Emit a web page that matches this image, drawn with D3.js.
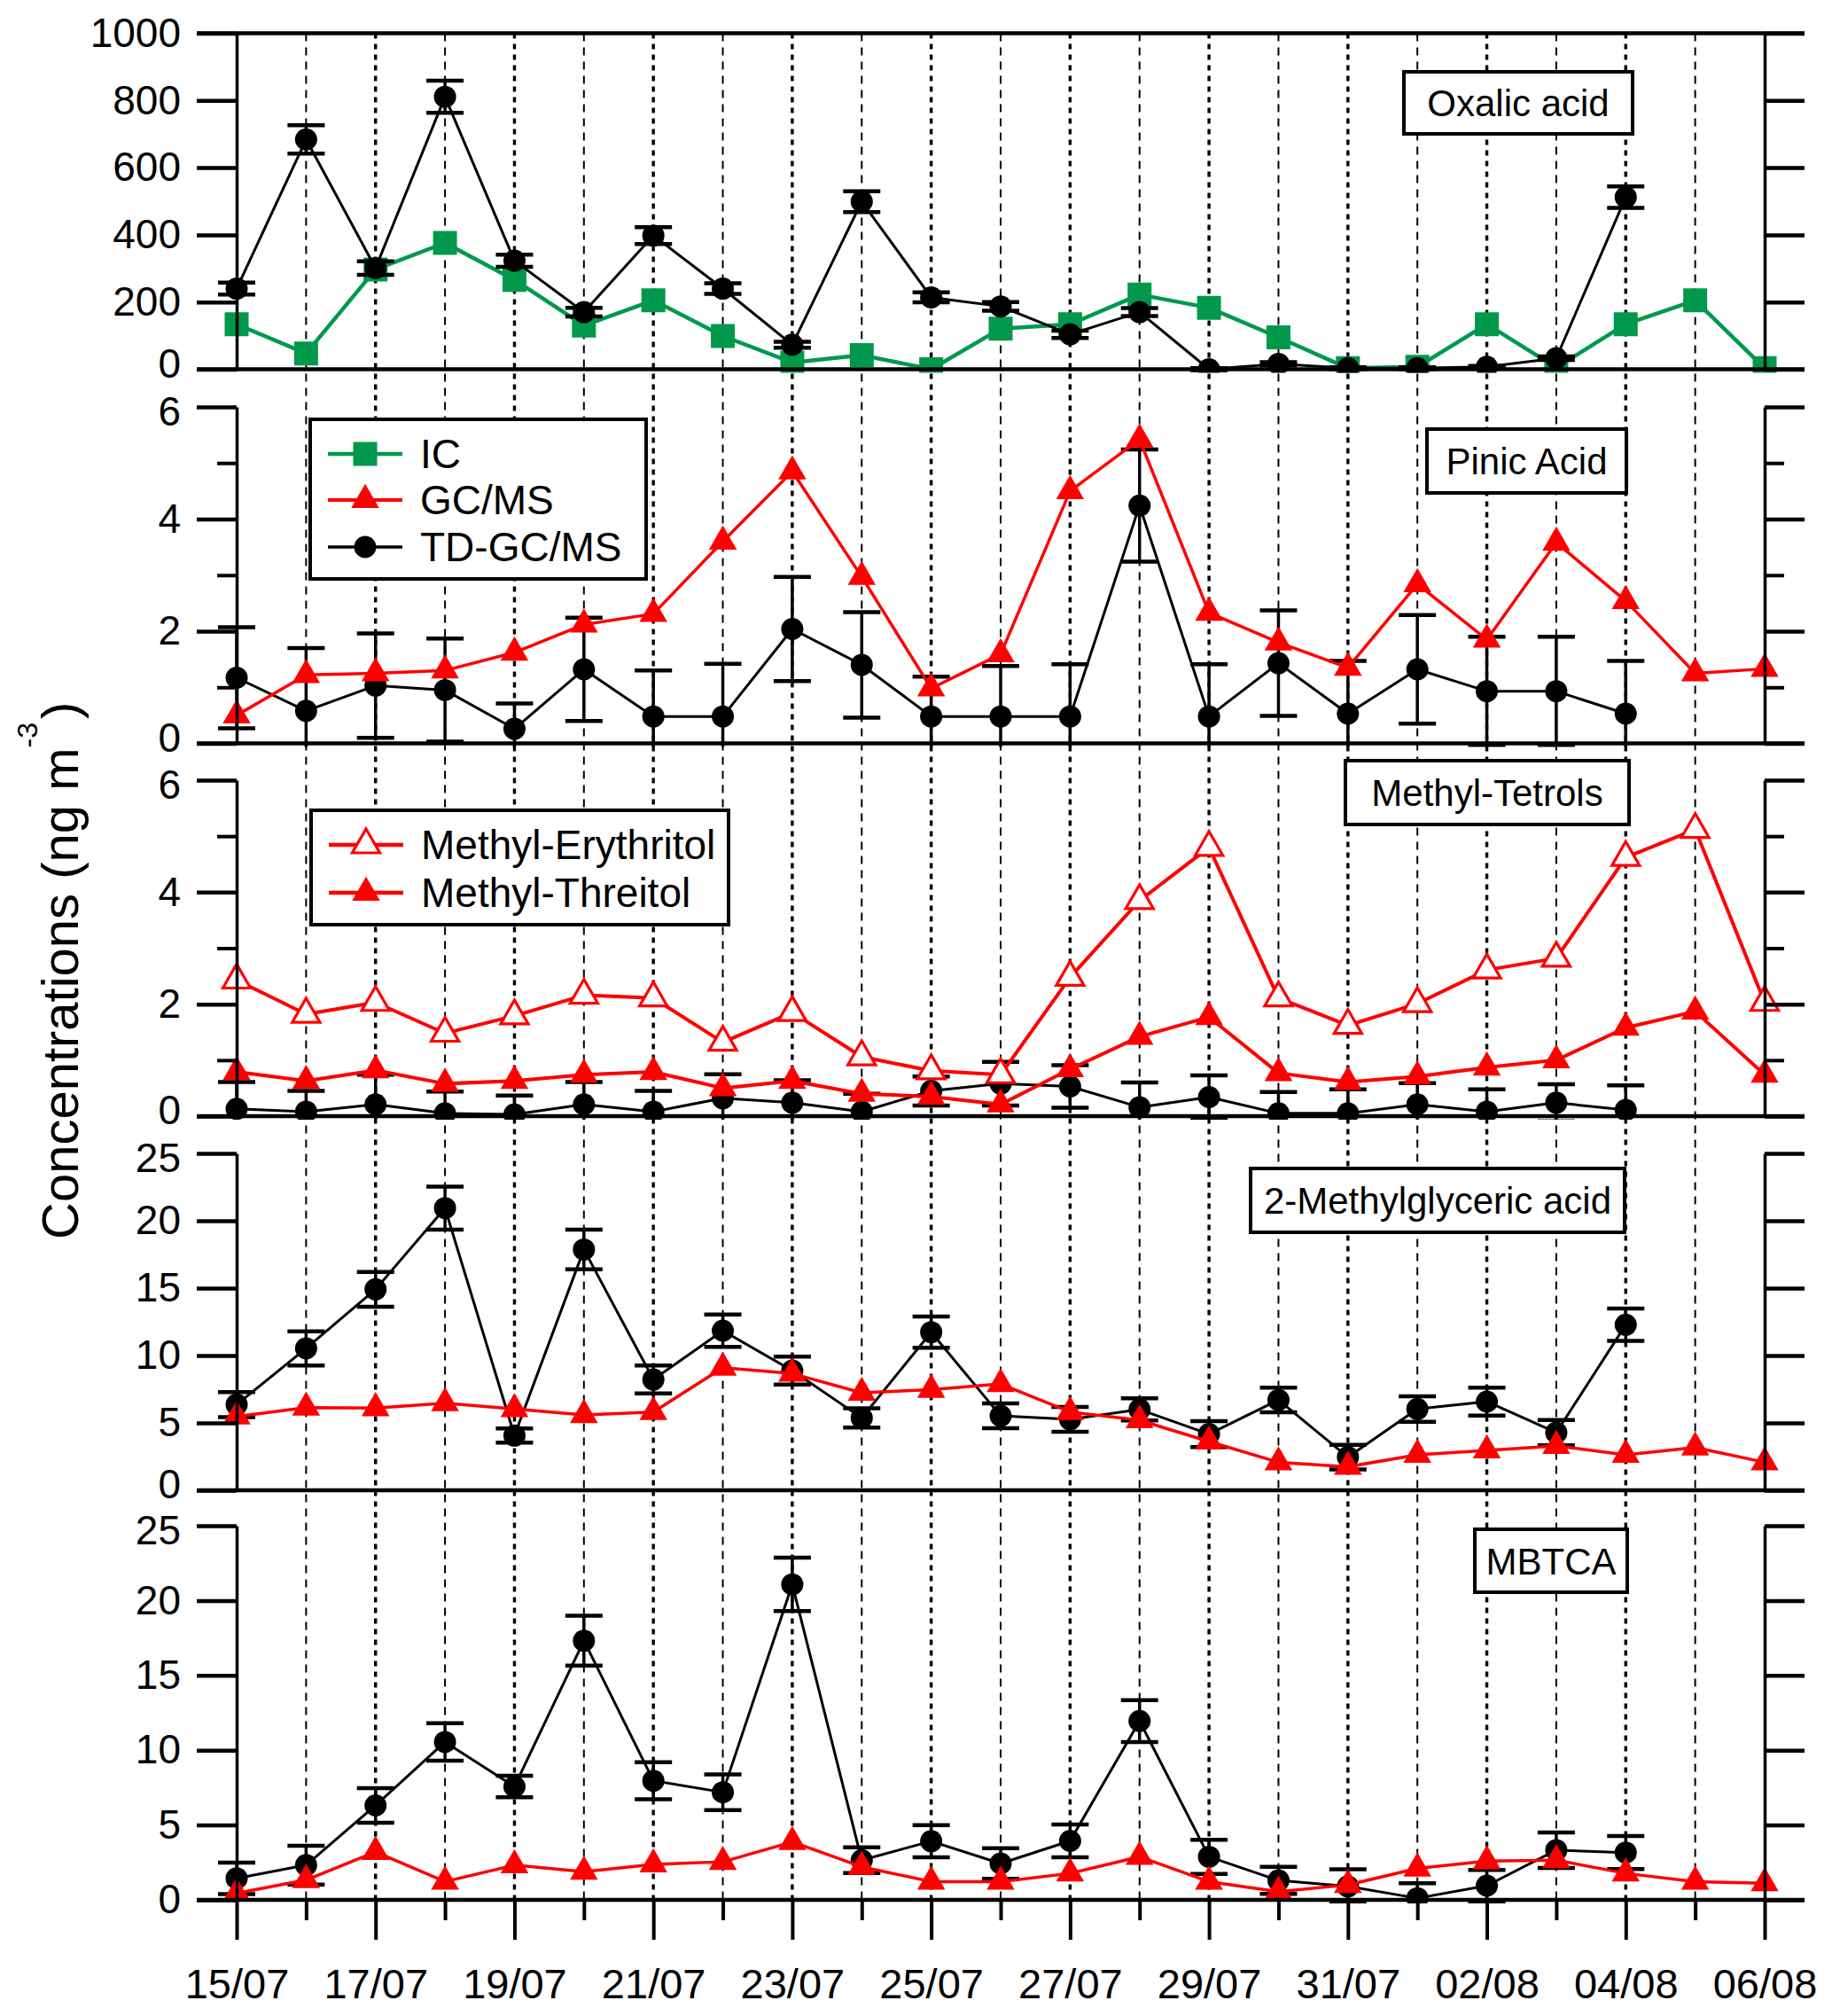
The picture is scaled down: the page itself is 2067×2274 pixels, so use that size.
<!DOCTYPE html>
<html>
<head>
<meta charset="utf-8">
<script src="https://cdn.jsdelivr.net/npm/d3@7"></script>
<style>
  body { margin: 0; background: #fff; }
  text { font-family: "Liberation Sans", Arial, sans-serif; fill: #000; }
</style>
</head>
<body>
<svg id="chart" width="2067" height="2274"></svg>
<script>
// sampling days
const dates = ["15/07","16/07","17/07","18/07","19/07","20/07","21/07","22/07","23/07","24/07","25/07","26/07",
  "27/07","28/07","29/07","30/07","31/07","01/08","02/08","03/08","04/08","05/08","06/08"];

// Oxalic acid (ng m-3)
const oxalicIC  = [134,47,297,376,266,130,205,99,20,42,0,121,134,222,183,95,3,7,134,5,134,205,3];
const oxalicTD  = [240,684,301,811,323,170,398,240,73,499,214,187,104,170,0,16,3,3,7,33,512,null,null];
const oxalicErr = [18,42,20,48,18,13,25,16,9,31,15,13,11,12,3,5,3,3,3,5,32,null,null];

// Pinic acid
const pinicGC  = [0.50,1.22,1.25,1.30,1.62,2.12,2.31,3.60,4.85,2.97,0.98,1.59,4.50,5.42,2.33,1.80,1.35,2.84,1.85,3.58,2.54,1.25,1.33];
const pinicTD  = [1.17,0.58,1.03,0.95,0.26,1.32,0.48,0.48,2.04,1.40,0.48,0.48,0.48,4.24,0.48,1.43,0.53,1.32,0.93,0.93,0.53,null,null];
const pinicErr = [0.90,1.12,0.93,0.92,0.45,0.92,0.82,0.94,0.93,0.94,0.71,0.90,0.93,1.00,0.93,0.94,0.94,0.97,0.97,0.97,0.94,null,null];

// Methyl-tetrols
const erythritol = [2.43,1.82,2.03,1.48,1.79,2.16,2.11,1.32,1.85,1.06,0.81,0.74,2.48,3.85,4.80,2.11,1.62,2.01,2.61,2.82,4.62,5.12,2.03];
const threitol   = [0.79,0.63,0.82,0.58,0.63,0.74,0.79,0.50,0.63,0.40,0.35,0.21,0.84,1.42,1.77,0.77,0.61,0.71,0.87,1.00,1.58,1.87,0.74];
const tetrolTD   = [0.13,0.08,0.21,0.05,0.03,0.21,0.08,0.32,0.24,0.08,0.45,0.58,0.53,0.16,0.34,0.05,0.05,0.21,0.08,0.24,0.11,null,null];
const tetrolErr  = [0.48,0.37,0.53,0.39,0.34,0.40,0.37,0.43,0.40,0.32,0.26,0.39,0.38,0.44,0.39,0.38,0.43,0.38,0.40,0.33,0.44,null,null];

// 2-Methylglyceric acid
const mgaGC  = [5.48,6.14,6.10,6.47,6.03,5.59,5.81,9.10,8.66,7.24,7.46,7.89,5.81,5.20,3.62,2.08,1.75,2.63,2.96,3.29,2.63,3.18,2.08];
const mgaTD  = [6.36,10.53,14.91,20.94,4.06,17.87,8.22,11.84,8.88,5.37,11.73,5.52,5.26,6.00,4.17,6.70,2.46,6.03,6.58,4.28,12.28,null,null];
const mgaErr = [0.93,1.27,1.29,1.6,0.53,1.47,1.04,1.2,1.03,0.72,1.16,0.92,0.92,0.82,0.96,0.91,0.91,0.95,1.03,0.94,1.2,null,null];

// MBTCA
const mbtcaGC  = [0.44,1.33,3.21,1.22,2.32,1.88,2.37,2.54,3.87,2.21,1.22,1.22,1.77,2.88,1.22,0.55,1.0,2.10,2.59,2.65,1.77,1.22,1.11];
const mbtcaTD  = [1.44,2.32,6.31,10.55,7.57,17.32,7.96,7.19,21.08,2.65,3.92,2.43,3.94,11.95,2.88,1.3,0.9,0.11,0.95,3.32,3.16,null,null];
const mbtcaErr = [1.05,1.3,1.16,1.25,0.72,1.67,1.23,1.19,1.78,0.86,1.07,1.02,1.1,1.4,1.14,0.9,1.15,1.0,1.05,1.18,1.1,null,null];

const green = "#00994c", red = "#ff0000";

const svg = d3.select("#chart");
const x = d3.scalePoint().domain(dates).range([267, 1991]);
const xLeft = 267, xRight = 1991;

const panels = [
  { label: "Oxalic acid", domain: [0, 1000], top: 37.5, zero: 416.5, ticks: d3.range(0, 1001, 200), minor: [],
    box: [1584, 81, 258, 70],
    series: [
      { values: oxalicIC, color: green, marker: "square", width: 4.5 },
      { values: oxalicTD, err: oxalicErr, color: "#000", marker: "circle", width: 3 }
    ] },
  { label: "Pinic Acid", domain: [0, 6], top: 459, zero: 838.5, ticks: [0, 2, 4, 6], minor: [1, 3, 5],
    box: [1610, 484, 225, 72],
    series: [
      { values: pinicTD, err: pinicErr, color: "#000", marker: "circle", width: 3 },
      { values: pinicGC, color: red, marker: "tri", width: 3.5 }
    ] },
  { label: "Methyl-Tetrols", domain: [0, 6], top: 880, zero: 1259, ticks: [0, 2, 4, 6], minor: [1, 3, 5],
    box: [1518, 858, 320, 72],
    series: [
      { values: tetrolTD, err: tetrolErr, color: "#000", marker: "circle", width: 3 },
      { values: threitol, color: red, marker: "tri", width: 4 },
      { values: erythritol, color: red, marker: "openTri", width: 4 }
    ] },
  { label: "2-Methylglyceric acid", domain: [0, 25], top: 1301, zero: 1681, ticks: d3.range(0, 26, 5), minor: [],
    box: [1411, 1318, 422, 72],
    series: [
      { values: mgaTD, err: mgaErr, color: "#000", marker: "circle", width: 3 },
      { values: mgaGC, color: red, marker: "tri", width: 3.5 }
    ] },
  { label: "MBTCA", domain: [0, 25], top: 1721, zero: 2143, ticks: d3.range(0, 26, 5), minor: [],
    box: [1664, 1725, 172, 71],
    series: [
      { values: mbtcaTD, err: mbtcaErr, color: "#000", marker: "circle", width: 3 },
      { values: mbtcaGC, color: red, marker: "tri", width: 3.5 }
    ] }
];

const markerPath = {
  square: d3.symbol().type(d3.symbolSquare).size(27 * 27)(),
  circle: d3.symbol().type(d3.symbolCircle).size(Math.PI * 12.5 * 12.5)(),
  tri: d3.symbol().type(d3.symbolTriangle).size(430)(),
  openTri: d3.symbol().type(d3.symbolTriangle).size(420)()
};

function drawMarker(sel, m, color) {
  sel.attr("d", markerPath[m])
    .attr("fill", m === "openTri" ? "#fff" : color)
    .attr("stroke", m === "openTri" ? color : "none")
    .attr("stroke-width", 3.2);
}

// vertical day grid across all panels
const grid = svg.append("g");
dates.forEach((d, i) => {
  if (i === 0 || i === dates.length - 1) return;
  const major = i % 2 === 0;
  grid.append("line")
    .attr("x1", x(d)).attr("x2", x(d))
    .attr("y1", panels[0].top).attr("y2", panels[4].zero)
    .attr("stroke", "#000")
    .attr("stroke-width", major ? 3.4 : 2)
    .attr("stroke-dasharray", major ? "6,6" : "9,7");
});

panels.forEach((p, pi) => {
  const y = d3.scaleLinear().domain(p.domain).range([p.zero, p.top]);
  const g = svg.append("g");

  const clipId = "clip" + pi;
  svg.append("clipPath").attr("id", clipId).append("rect")
    .attr("x", 0).attr("y", 0).attr("width", 2067).attr("height", p.zero + 4);

  // series
  p.series.forEach(s => {
    const pts = s.values.map((v, i) => ({ d: dates[i], v: v, e: s.err ? s.err[i] : null }))
      .filter(o => o.v != null);
    const sg = g.append("g").attr("clip-path", `url(#${clipId})`);
    if (s.err) {
      const eb = sg.selectAll(".eb").data(pts).enter().append("g").attr("class", "eb")
        .attr("stroke", s.color).attr("stroke-width", 3.5);
      eb.append("line").attr("x1", o => x(o.d)).attr("x2", o => x(o.d))
        .attr("y1", o => y(o.v - o.e)).attr("y2", o => y(o.v + o.e));
      eb.append("line").attr("x1", o => x(o.d) - 21).attr("x2", o => x(o.d) + 21)
        .attr("y1", o => y(o.v + o.e)).attr("y2", o => y(o.v + o.e)).attr("stroke-width", 4.5);
      eb.append("line").attr("x1", o => x(o.d) - 21).attr("x2", o => x(o.d) + 21)
        .attr("y1", o => y(o.v - o.e)).attr("y2", o => y(o.v - o.e)).attr("stroke-width", 4.5);
    }
    sg.append("path").datum(pts)
      .attr("fill", "none").attr("stroke", s.color).attr("stroke-width", s.width)
      .attr("stroke-linejoin", "round")
      .attr("d", d3.line().x(o => x(o.d)).y(o => y(o.v)));
    sg.selectAll(".mk").data(pts).enter().append("path").attr("class", "mk")
      .attr("transform", o => `translate(${x(o.d)},${y(o.v)})`)
      .call(drawMarker, s.marker, s.color);
  });

  // axes
  const left = g.append("g").attr("transform", `translate(${xLeft},0)`)
    .call(d3.axisLeft(y).tickValues(p.ticks).tickSize(45).tickSizeOuter(0).tickPadding(18)
      .tickFormat(d3.format("d")));
  const right = g.append("g").attr("transform", `translate(${xRight},0)`)
    .call(d3.axisRight(y).tickValues(p.ticks).tickSize(45).tickSizeOuter(0).tickFormat(""));
  [left, right].forEach(a => {
    a.select(".domain").attr("stroke-width", 3.5);
    a.selectAll(".tick line").attr("stroke-width", 4.5);
    a.selectAll("text").attr("font-size", 46).attr("font-family", "Liberation Sans, Arial, sans-serif");
  });
  // keep the stacked 0 / top labels of neighbouring panels apart
  left.selectAll(".tick text").attr("transform", d => {
    if (d === p.domain[0] && pi < panels.length - 1) return "translate(0,-6)";
    if (d === p.domain[1] && pi > 0) return "translate(0,6)";
    return null;
  });
  if (p.minor.length) {
    g.append("g").attr("transform", `translate(${xLeft},0)`)
      .call(d3.axisLeft(y).tickValues(p.minor).tickSize(22).tickSizeOuter(0).tickFormat(""))
      .call(a => a.select(".domain").remove())
      .selectAll(".tick line").attr("stroke-width", 4);
    g.append("g").attr("transform", `translate(${xRight},0)`)
      .call(d3.axisRight(y).tickValues(p.minor).tickSize(22).tickSizeOuter(0).tickFormat(""))
      .call(a => a.select(".domain").remove())
      .selectAll(".tick line").attr("stroke-width", 4);
  }

  // baseline frame (and top frame for the first panel)
  const frames = pi === 0 ? [p.domain[0], p.domain[1]] : [p.domain[0]];
  frames.forEach(v => {
    g.append("line").attr("x1", xLeft - 45).attr("x2", xRight + 45)
      .attr("y1", y(v)).attr("y2", y(v))
      .attr("stroke", "#000").attr("stroke-width", 4.5);
  });

  // label box
  const [bx, by, bw, bh] = p.box;
  g.append("rect").attr("x", bx).attr("y", by).attr("width", bw).attr("height", bh)
    .attr("fill", "#fff").attr("stroke", "#000").attr("stroke-width", 4);
  g.append("text").attr("x", bx + bw / 2).attr("y", by + bh / 2 + 15)
    .attr("text-anchor", "middle").attr("font-size", 42).text(p.label);

  // bottom date axis on last panel
  if (pi === panels.length - 1) {
    const bottom = g.append("g").attr("transform", `translate(0,${p.zero})`)
      .call(d3.axisBottom(x).tickValues(dates.filter((d, i) => i % 2 === 0))
        .tickSize(45).tickPadding(33).tickSizeOuter(0));
    bottom.select(".domain").remove();
    bottom.selectAll(".tick line").attr("stroke-width", 4);
    bottom.selectAll("text").attr("font-size", 47).attr("font-family", "Liberation Sans, Arial, sans-serif");
    g.append("g").attr("transform", `translate(0,${p.zero})`)
      .call(d3.axisBottom(x).tickValues(dates.filter((d, i) => i % 2 === 1))
        .tickSize(23).tickSizeOuter(0).tickFormat(""))
      .call(a => a.select(".domain").remove())
      .selectAll(".tick line").attr("stroke-width", 4);
  }
});

// legends
function legend(box, rows) {
  const [bx, by, bw, bh] = box;
  const lg = svg.append("g");
  lg.append("rect").attr("x", bx).attr("y", by).attr("width", bw).attr("height", bh)
    .attr("fill", "#fff").attr("stroke", "#000").attr("stroke-width", 4);
  rows.forEach(r => {
    lg.append("line").attr("x1", bx + 20).attr("x2", bx + 104).attr("y1", r.y).attr("y2", r.y)
      .attr("stroke", r.color).attr("stroke-width", r.width);
    lg.append("path").attr("transform", `translate(${bx + 62},${r.y})`).call(drawMarker, r.marker, r.color);
    lg.append("text").attr("x", bx + 124).attr("y", r.y + 16).attr("font-size", 46).text(r.name);
  });
}
legend([350, 473, 379, 180], [
  { name: "IC", color: green, marker: "square", width: 4.5, y: 512 },
  { name: "GC/MS", color: red, marker: "tri", width: 4, y: 564 },
  { name: "TD-GC/MS", color: "#000", marker: "circle", width: 3.5, y: 617 }
]);
legend([351, 914, 471, 129], [
  { name: "Methyl-Erythritol", color: red, marker: "openTri", width: 4.5, y: 953 },
  { name: "Methyl-Threitol", color: red, marker: "tri", width: 4.5, y: 1007 }
]);

// y-axis title
const title = svg.append("text").attr("transform", "translate(88,1398) rotate(-90)").attr("font-size", 58);
title.append("tspan").text("Concentrations (ng m");
title.append("tspan").attr("font-size", 32).attr("dy", -46).text("-3");
title.append("tspan").attr("dy", 46).attr("dx", 4).text(")");
</script>
</body>
</html>
